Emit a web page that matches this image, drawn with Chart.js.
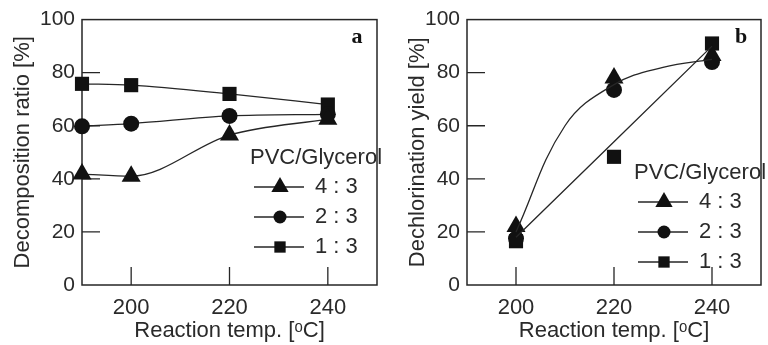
<!DOCTYPE html>
<html>
<head>
<meta charset="utf-8">
<script src="https://cdn.jsdelivr.net/npm/chart.js@4"></script>
<style>
  html, body { margin: 0; padding: 0; background: #fff; overflow: hidden; }
  body { width: 768px; height: 345px; position: relative; }
  .panel { position: absolute; top: 0; width: 388px; height: 345px; }
  #panelA { left: 0; }
  #panelB { left: 384px; }
</style>
</head>
<body>
<div class="panel" id="panelA"><canvas id="chartA" width="388" height="345"></canvas></div>
<div class="panel" id="panelB"><canvas id="chartB" width="388" height="345"></canvas></div>
<script>
// panel a: decomposition ratio
const tempsA = [190, 200, 220, 240];
const descomp43 = [41.8, 41, 56.5, 62.5];
const descomp23 = [59.8, 60.8, 63.7, 64.3];
const descomp13 = [75.8, 75.3, 72, 68];

// panel b: dechlorination yield
const tempsB = [200, 220, 240];
const decl43 = [22, 78, 86.5];
const decl23 = [17.5, 73.5, 84];
const decl13 = [16.5, 48.3, 91];
// fitted curves drawn in panel b
const curvaTemps = [200, 210, 220, 230, 240];
const curvaValores = [20, 60, 75.5, 82, 85];
const rectaTemps = [200, 240];
const rectaValores = [18, 90];

const xTicks = [200, 220, 240];
const yTicks = [0, 20, 40, 60, 80, 100];
const series = ['4 : 3', '2 : 3', '1 : 3'];
const estilos = ['triangle', 'circle', 'rect'];
const radios = [11, 8, 10];

const TINTA = '#262626';
Chart.defaults.font.family = '"Liberation Sans", Arial, sans-serif';
Chart.defaults.font.size = 21;
Chart.defaults.color = '#2a2a2a';

function puntos(xs, ys) {
    return xs.map((x, i) => ({ x: x, y: ys[i] }));
}

function dibujarMarcador(ctx, estilo, x, y, r) {
    ctx.beginPath();
    if (estilo === 'triangle') {
        ctx.moveTo(x, y - r);
        ctx.lineTo(x + r * 0.866, y + r * 0.5);
        ctx.lineTo(x - r * 0.866, y + r * 0.5);
        ctx.closePath();
    } else if (estilo === 'rect') {
        const s = r * Math.SQRT1_2;
        ctx.rect(x - s, y - s, 2 * s, 2 * s);
    } else {
        ctx.arc(x, y, r, 0, Math.PI * 2);
    }
    ctx.fill();
}

// box, inward ticks, panel letter and legend
const marcoPlugin = {
    id: 'marco',
    beforeDatasetsDraw(chart) {
        const { ctx, chartArea: a, scales } = chart;
        ctx.save();
        ctx.strokeStyle = TINTA;
        ctx.lineWidth = 1.5;
        ctx.strokeRect(a.left, a.top, a.right - a.left, a.bottom - a.top);
        ctx.lineWidth = 1.3;
        ctx.beginPath();
        xTicks.forEach(v => {
            const px = scales.x.getPixelForValue(v);
            ctx.moveTo(px, a.bottom);
            ctx.lineTo(px, a.bottom - 18);
        });
        yTicks.slice(1, -1).forEach(v => {
            const py = scales.y.getPixelForValue(v);
            ctx.moveTo(a.left, py);
            ctx.lineTo(a.left + 18, py);
        });
        ctx.stroke();
        ctx.restore();
    },
    afterDraw(chart, args, opts) {
        const { ctx, chartArea: a } = chart;
        ctx.save();
        ctx.fillStyle = '#111';
        ctx.font = 'bold 22px "Liberation Serif", serif';
        ctx.textAlign = 'center';
        ctx.textBaseline = 'middle';
        ctx.fillText(opts.letra, a.right - 20, a.top + 18);

        const ley = opts.leyenda;
        ctx.font = '22px "Liberation Sans", Arial, sans-serif';
        ctx.fillStyle = '#2a2a2a';
        ctx.textAlign = 'left';
        ctx.fillText('PVC/Glycerol', ley.x, ley.y);
        series.forEach((nombre, i) => {
            const y = ley.y + 29 + i * 30;
            ctx.strokeStyle = TINTA;
            ctx.lineWidth = 1.3;
            ctx.beginPath();
            ctx.moveTo(ley.x + 4, y);
            ctx.lineTo(ley.x + 54, y);
            ctx.stroke();
            ctx.fillStyle = '#111';
            dibujarMarcador(ctx, estilos[i], ley.x + 30, y, [10, 6.5, 8][i]);
            ctx.fillStyle = '#2a2a2a';
            ctx.fillText(nombre, ley.x + 65, y);
        });
        ctx.restore();
    }
};

function serieMarcadores(i, datos, conLinea) {
    return {
        label: series[i],
        data: datos,
        pointStyle: estilos[i],
        pointRadius: radios[i],
        pointBackgroundColor: '#111',
        pointBorderWidth: 0,
        borderColor: TINTA,
        borderWidth: 1.3,
        showLine: conLinea,
        cubicInterpolationMode: 'monotone',
        clip: false
    };
}

function serieAjuste(datos) {
    return {
        data: datos,
        pointRadius: 0,
        borderColor: TINTA,
        borderWidth: 1.3,
        showLine: true,
        tension: 0.4,
        clip: false
    };
}

function crearGrafico(id, datasets, tituloY, anchoY, padTituloY, padDerecha, letra, leyenda) {
    const ctx = document.getElementById(id).getContext('2d');
    return new Chart(ctx, {
        type: 'scatter',
        data: { datasets: datasets },
        options: {
            responsive: false,
            animation: false,
            events: [],
            layout: { padding: { top: 18, right: padDerecha, left: 0, bottom: 0 } },
            plugins: {
                legend: { display: false },
                tooltip: { enabled: false },
                marco: { letra: letra, leyenda: leyenda }
            },
            scales: {
                x: {
                    type: 'linear',
                    min: 190,
                    max: 250,
                    grid: { display: false, drawTicks: false },
                    border: { display: false },
                    ticks: { padding: 10, color: '#2a2a2a', font: { size: 22 } },
                    afterBuildTicks: s => { s.ticks = xTicks.map(v => ({ value: v })); },
                    afterFit: s => { s.height = 60; },
                    title: {
                        display: true,
                        text: 'Reaction temp. [ᵒC]',
                        color: '#2a2a2a',
                        font: { size: 22 },
                        padding: { top: 0, bottom: 1 }
                    }
                },
                y: {
                    min: 0,
                    max: 100,
                    grid: { display: false, drawTicks: false },
                    border: { display: false },
                    ticks: { padding: 7, stepSize: 20, color: '#2a2a2a' },
                    afterFit: s => { s.width = anchoY; },
                    title: {
                        display: true,
                        text: tituloY,
                        color: '#2a2a2a',
                        font: { size: 22 },
                        padding: { top: padTituloY, bottom: 0 }
                    }
                }
            }
        },
        plugins: [marcoPlugin]
    });
}

crearGrafico('chartA', [
    serieMarcadores(0, puntos(tempsA, descomp43), true),
    serieMarcadores(1, puntos(tempsA, descomp23), true),
    serieMarcadores(2, puntos(tempsA, descomp13), true)
], 'Decomposition ratio [%]', 82, 10, 5, 'a', { x: 250, y: 158 });

crearGrafico('chartB', [
    serieAjuste(puntos(curvaTemps, curvaValores)),
    serieAjuste(puntos(rectaTemps, rectaValores)),
    serieMarcadores(0, puntos(tempsB, decl43), false),
    serieMarcadores(1, puntos(tempsB, decl23), false),
    serieMarcadores(2, puntos(tempsB, decl13), false)
], 'Dechlorination yield [%]', 83, 21, 4, 'b', { x: 250, y: 173 });
</script>
</body>
</html>
